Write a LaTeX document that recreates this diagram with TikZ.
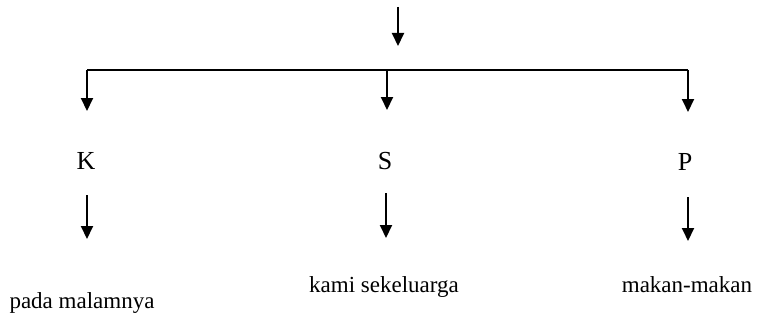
\documentclass[tikz,border=0pt]{standalone}
\usepackage{fontspec}
\setmainfont{Liberation Serif}
\usetikzlibrary{arrows.meta}
\tikzset{
  arr/.style={-{Triangle[width=12pt,length=13pt]},line width=2pt},
  letter/.style={font=\fontsize{26}{28}\selectfont,inner sep=0pt,anchor=base},
  word/.style={font=\fontsize{23}{25}\selectfont,inner sep=0pt,anchor=base}
}
\begin{document}
\begin{tikzpicture}[x=1pt,y=-1pt]
\useasboundingbox (0,0) rectangle (760,321);

% incoming arrow
\coordinate (in) at (398,7);
\coordinate (inend) at (398,46);
\draw[arr] (in) -- (inend);

% bar and branches
\coordinate (barL) at (87,70);
\coordinate (barM) at (387,70);
\coordinate (barR) at (688,70);
\coordinate (tipL) at (87,111);
\coordinate (tipM) at (387,110);
\coordinate (tipR) at (688,112);
\draw[line width=2pt] (barL) -- (barR);
\draw[arr] (barL) -- (tipL);
\draw[arr] (barM) -- (tipM);
\draw[arr] (barR) -- (tipR);

\node[letter] (K) at (86,169) {K};
\node[letter] (S) at (385,169) {S};
\node[letter] (P) at (685,170) {P};

\coordinate (kout) at (87,195);
\coordinate (sout) at (386,193);
\coordinate (pout) at (688,197);
\coordinate (kend) at (87,239);
\coordinate (send) at (386,238);
\coordinate (pend) at (688,241);
\draw[arr] (kout) -- (kend);
\draw[arr] (sout) -- (send);
\draw[arr] (pout) -- (pend);

\node[word] (when) at (82,308) {pada malamnya};
\node[word] (who) at (384,292) {kami sekeluarga};
\node[word] (what) at (687,292) {makan-makan};
\end{tikzpicture}
\end{document}
